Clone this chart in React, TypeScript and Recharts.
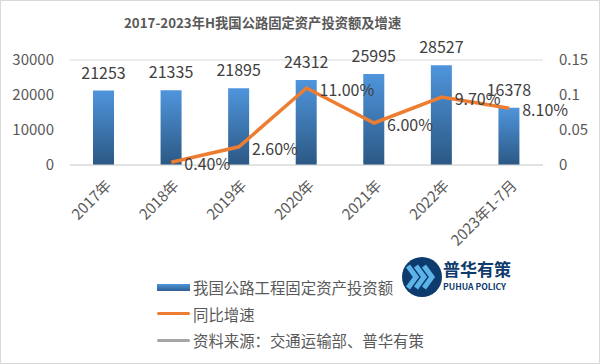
import {
  ComposedChart, Bar, Line, XAxis, YAxis, CartesianGrid, LabelList,
} from "recharts";

const CATEGORIES = ["2017年", "2018年", "2019年", "2020年", "2021年", "2022年", "2023年1-7月"];
const INVESTMENT = [21253, 21335, 21895, 24312, 25995, 28527, 16378];
const GROWTH = [null, 0.004, 0.026, 0.11, 0.06, 0.097, 0.081];
const LEFT_TICKS = [0, 10000, 20000, 30000];
const RIGHT_TICKS = [0, 0.05, 0.1, 0.15];
const TITLE = "2017-2023年H我国公路固定资产投资额及增速";
const SERIES_NAMES = ["我国公路工程固定资产投资额（亿元）", "同比增速", "资料来源：交通运输部、普华有策"];

const FONT = '"Microsoft YaHei", "Noto Sans CJK SC", sans-serif';
const TEXT = "#595959";

const data = CATEGORIES.map((c, i) => ({
  name: c,
  invest: INVESTMENT[i],
  growth: GROWTH[i],
}));

function XTick({ x, y, payload }: any) {
  return (
    <text
      x={x + 4}
      y={y + 9}
      transform={`rotate(-45 ${x + 4} ${y + 9})`}
      textAnchor="end"
      dominantBaseline="central"
      fontSize={15}
      fill={TEXT}
      fontFamily={FONT}
    >
      {payload.value}
    </text>
  );
}

function GrowthLabel({ x, y, value }: any) {
  if (value == null) return null;
  return (
    <text x={x + 13} y={y + 1} dominantBaseline="central" fontSize={16} fill="#404040" fontFamily={FONT}>
      {(value * 100).toFixed(2) + "%"}
    </text>
  );
}

function Logo() {
  return (
    <svg width={128} height={46} style={{ position: "absolute", left: 401, top: 254 }}>
      <rect x={0} y={0} width={128} height={46} fill="#fff" />
      <circle cx={21} cy={23} r={20} fill="#0d3b6e" />
      {[0, 8, 16].map((d) => (
        <polyline
          key={d}
          points={`${7 + d},12 ${15 + d},23 ${7 + d},34`}
          fill="none"
          stroke="#5bb3e8"
          strokeWidth={5}
          strokeLinejoin="miter"
        />
      ))}
      <text x={42} y={22} fontSize={17} fontWeight="bold" fill="#0d3b6e" fontFamily={FONT}>普华有策</text>
      <text x={42} y={36} fontSize={8.6} fontWeight="bold" fill="#0d3b6e" fontFamily={FONT}>PUHUA POLICY</text>
    </svg>
  );
}

export default function App() {
  const swatches = [
    <div style={{ width: 33, height: 7, background: "linear-gradient(#4f95dc, #2d5f91)" }} />,
    <div style={{ width: 33, height: 3, background: "#ed7d31", borderRadius: 2 }} />,
    <div style={{ width: 33, height: 3, background: "#a5a5a5", borderRadius: 2 }} />,
  ];
  return (
    <div style={{ position: "absolute", left: 0, top: 0, width: 600, height: 364, background: "#fff", fontFamily: FONT }}>
      <div style={{ position: "absolute", inset: 0, border: "1px solid #d9d9d9", boxSizing: "border-box" }} />
      <div style={{ position: "absolute", top: 13, left: 124, whiteSpace: "nowrap", fontSize: 13.3, fontWeight: "bold", color: TEXT }}>
        {TITLE}
      </div>
      <ComposedChart width={600} height={364} data={data} margin={{ top: 60, right: 0, left: 0, bottom: 169 }}>
        <defs>
          <linearGradient id="barGrad" x1="0" y1="0" x2="0" y2="1">
            <stop offset="0%" stopColor="#4f95dc" />
            <stop offset="100%" stopColor="#2b5884" />
          </linearGradient>
        </defs>
        <CartesianGrid vertical={false} stroke="#d9d9d9" />
        <XAxis
          dataKey="name"
          interval={0}
          tick={<XTick />}
          tickLine={false}
          axisLine={{ stroke: "#d9d9d9" }}
          height={30}
        />
        <YAxis
          yAxisId="left"
          domain={[0, 30000]}
          ticks={LEFT_TICKS}
          width={70}
          tickSize={0}
          tickMargin={16}
          axisLine={false}
          tick={{ fontSize: 15, fill: TEXT, fontFamily: FONT }}
        />
        <YAxis
          yAxisId="right"
          orientation="right"
          domain={[0, 0.15]}
          ticks={RIGHT_TICKS}
          width={57}
          tickSize={0}
          tickMargin={16}
          axisLine={false}
          tickFormatter={(v) => String(v)}
          tick={{ fontSize: 15, fill: TEXT, fontFamily: FONT, textAnchor: "start" }}
        />
        <Bar yAxisId="left" dataKey="invest" name={SERIES_NAMES[0]} fill="url(#barGrad)" barSize={21} isAnimationActive={false}>
          <LabelList dataKey="invest" position="top" offset={12} fontSize={16} fill="#404040" fontFamily={FONT} />
        </Bar>
        <Line
          yAxisId="right"
          dataKey="growth"
          name={SERIES_NAMES[1]}
          stroke="#ed7d31"
          strokeWidth={3.5}
          dot={false}
          activeDot={false}
          isAnimationActive={false}
        >
          <LabelList dataKey="growth" content={<GrowthLabel />} />
        </Line>
      </ComposedChart>
      <div style={{ position: "absolute", left: 157, top: 274 }}>
        {SERIES_NAMES.map((n, i) => (
          <div key={n} style={{ display: "flex", alignItems: "center", height: 26.5, fontSize: 15.4, color: TEXT, whiteSpace: "nowrap" }}>
            {swatches[i]}
            <span style={{ marginLeft: 3 }}>{n}</span>
          </div>
        ))}
      </div>
      <Logo />
    </div>
  );
}
